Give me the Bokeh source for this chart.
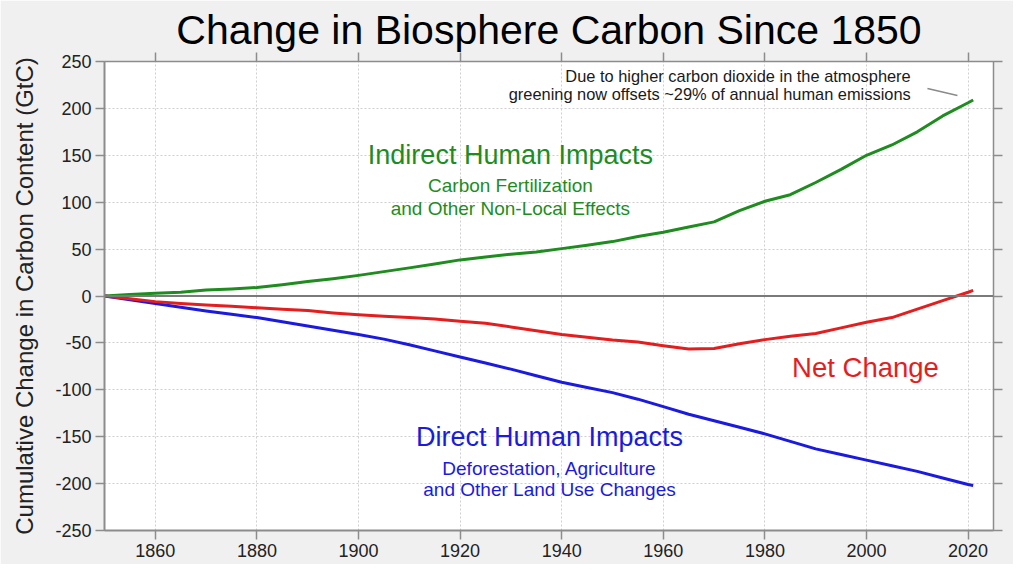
from bokeh.plotting import figure
from bokeh.models import Range1d, LinearAxis, Span, FixedTicker, ColumnDataSource, PrintfTickFormatter
from bokeh.core.properties import value
from bokeh.embed import file_html
from bokeh.resources import INLINE

# ---- data (GtC, cumulative since 1850) ----
years = [1850, 1855, 1860, 1865, 1870, 1875, 1880, 1885, 1890, 1895, 1900,
         1905, 1910, 1915, 1920, 1925, 1930, 1935, 1940, 1945, 1950, 1955,
         1960, 1965, 1970, 1975, 1980, 1985, 1990, 1995, 2000, 2005, 2010,
         2015, 2020, 2021]
indirect = [0, 1.5, 3, 4, 6.5, 7.5, 9, 12, 15.5, 18.5, 22,
            26, 30, 34, 38.5, 41.5, 44.5, 47, 50.5, 54, 58, 63.5,
            68, 73.5, 79, 91, 101, 108, 121, 135, 150, 161, 175,
            192, 206, 209]
direct = [0, -4, -8, -12, -16, -19.5, -23, -27.5, -32, -36.5, -41,
          -46, -52, -58.5, -65, -71.5, -78, -85, -92, -97.5, -103, -110,
          -118, -126, -133, -140, -147, -155, -163, -169, -175, -181, -187,
          -194, -201, -202]
net = [0, -3, -6, -8, -9.5, -11, -12.5, -14, -15.5, -18, -20,
       -21.5, -23, -24.5, -27, -29, -33, -37, -41, -44, -47, -49,
       -53, -56.5, -56, -51, -46.5, -43, -40, -34, -28, -23, -14,
       -5, 4, 6]

x_ticks = [1860, 1880, 1900, 1920, 1940, 1960, 1980, 2000, 2020]
y_ticks = [-250, -200, -150, -100, -50, 0, 50, 100, 150, 200, 250]

title = "Change in Biosphere Carbon Since 1850"
y_label = "Cumulative Change in Carbon Content (GtC)"
note_lines = ["Due to higher carbon dioxide in the atmosphere",
              "greening now offsets ~29% of annual human emissions"]

GREEN = "#1e8c1e"
BLUE = "#1a1ae0"
RED = "#e41e1e"
FONT = "Liberation Sans"
AXC = "#8c8c8c"

p = figure(width=1013, height=564, output_backend="svg", toolbar_location=None,
           x_range=Range1d(1850, 2025), y_range=Range1d(-250, 250),
           min_border_left=104, min_border_right=20, min_border_top=61,
           min_border_bottom=34)
p.border_fill_color = "#f0f0f0"
p.background_fill_color = "white"
p.outline_line_color = AXC

p.title.text = title
p.title.align = "center"
p.title.text_font = FONT
p.title.text_font_size = "41px"
p.title.text_font_style = "normal"
p.title.text_color = "black"
p.title.standoff = 0

# main axes
p.xaxis.ticker = FixedTicker(ticks=x_ticks)
p.yaxis.ticker = FixedTicker(ticks=y_ticks)
p.yaxis.formatter = PrintfTickFormatter(format="%d")
p.xaxis.formatter = PrintfTickFormatter(format="%d")
p.yaxis.axis_label = y_label
for ax in (p.xaxis[0], p.yaxis[0]):
    ax.axis_line_color = AXC
    ax.axis_line_width = 2
    ax.major_tick_line_color = AXC
    ax.major_tick_line_width = 1.5
    ax.major_tick_in = 0
    ax.major_tick_out = 9
    ax.minor_tick_line_color = None
    ax.major_label_text_font = FONT
    ax.major_label_text_font_size = "18px"
    ax.major_label_text_color = "#222222"
    ax.axis_label_text_font = FONT
    ax.axis_label_text_font_size = "24px"
    ax.axis_label_text_font_style = "normal"
    ax.axis_label_text_color = "#222222"
p.yaxis.major_label_standoff = 4
p.yaxis.axis_label_standoff = 14
p.xaxis.major_label_standoff = 4

# mirror axes (ticks only)
for loc in ("right", "above"):
    ax = LinearAxis(ticker=FixedTicker(ticks=y_ticks if loc == "right" else x_ticks),
                    major_label_text_font_size="0px",
                    major_label_text_color=None,
                    axis_line_color=AXC, axis_line_width=1.5,
                    major_tick_line_color=AXC, major_tick_line_width=1.5,
                    major_tick_in=0, major_tick_out=9,
                    minor_tick_line_color=None)
    p.add_layout(ax, loc)

# grid
for g in (p.xgrid[0], p.ygrid[0]):
    g.grid_line_color = "#cfcfcf"
    g.grid_line_dash = "2 2"
    g.grid_line_width = 1
p.xgrid.ticker = FixedTicker(ticks=x_ticks)
p.ygrid.ticker = FixedTicker(ticks=y_ticks)

p.add_layout(Span(location=0, dimension="width", line_color="#7a7a7a", line_width=2))

src = ColumnDataSource(dict(year=years, indirect=indirect, direct=direct, net=net))
for col, c in (("indirect", GREEN), ("direct", BLUE), ("net", RED)):
    p.line("year", col, source=src, line_color=c, line_width=3, line_join="round")

# text annotations: (text, x, y, size, color)
labels = [
    ("Indirect Human Impacts", 1929.9, 150, "27px", GREEN),
    ("Carbon Fertilization", 1929.9, 117.5, "19px", GREEN),
    ("and Other Non-Local Effects", 1929.9, 93, "19px", GREEN),
    ("Net Change", 1999.8, -76, "27.5px", RED),
    ("Direct Human Impacts", 1937.6, -150, "27px", BLUE),
    ("Deforestation, Agriculture", 1937.6, -184, "19px", BLUE),
    ("and Other Land Use Changes", 1937.6, -206, "19px", BLUE),
]
for txt, lx, ly, fs, col in labels:
    p.text(x=[lx], y=[ly], text=[txt], text_font=value(FONT), text_font_size=fs,
           text_color=col, text_align="center", text_baseline="middle")

note_x = 2008.7
note_y = [235, 215]
for txt, ny in zip(note_lines, note_y):
    p.text(x=[note_x], y=[ny], text=[txt], text_font=value(FONT), text_font_size="16.4px",
           text_color="#1a1a1a", text_align="right", text_baseline="middle")

p.line(x=[2012.0, 2017.9], y=[221.2, 213.7], line_color="#8a8a8a", line_width=1.5)

open("out.html", "w").write(file_html(p, INLINE))
